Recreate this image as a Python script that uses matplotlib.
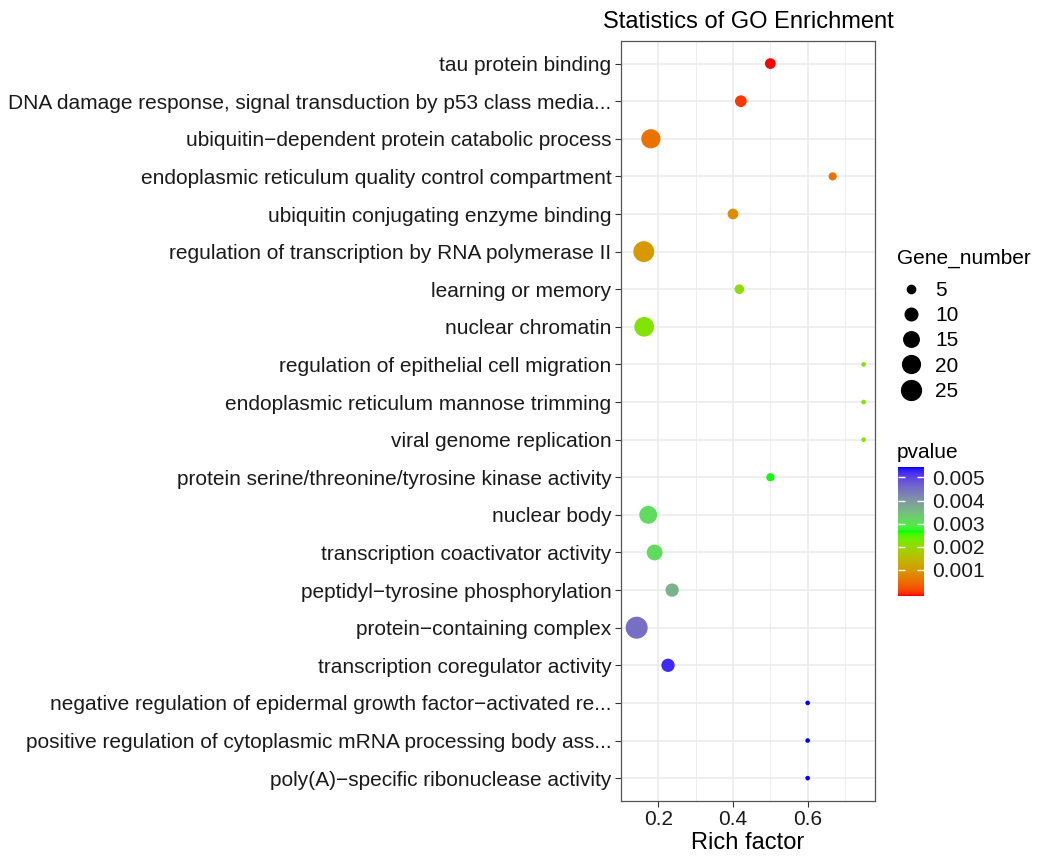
import numpy as np
import matplotlib
matplotlib.use("Agg")
import matplotlib.pyplot as plt
from matplotlib.colors import ListedColormap, Normalize
from matplotlib.lines import Line2D
import matplotlib.cm as cm

plt.rcParams['font.family'] = ['Liberation Sans', 'DejaVu Sans']

terms = [
    "tau protein binding",
    "DNA damage response, signal transduction by p53 class media...",
    "ubiquitin\u2212dependent protein catabolic process",
    "endoplasmic reticulum quality control compartment",
    "ubiquitin conjugating enzyme binding",
    "regulation of transcription by RNA polymerase II",
    "learning or memory",
    "nuclear chromatin",
    "regulation of epithelial cell migration",
    "endoplasmic reticulum mannose trimming",
    "viral genome replication",
    "protein serine/threonine/tyrosine kinase activity",
    "nuclear body",
    "transcription coactivator activity",
    "peptidyl\u2212tyrosine phosphorylation",
    "protein\u2212containing complex",
    "transcription coregulator activity",
    "negative regulation of epidermal growth factor\u2212activated re...",
    "positive regulation of cytoplasmic mRNA processing body ass...",
    "poly(A)\u2212specific ribonuclease activity",
]
rich_factor = [0.5, 0.421, 0.18, 0.667, 0.4, 0.161, 0.417, 0.162, 0.75, 0.75,
               0.75, 0.5, 0.173, 0.19, 0.237, 0.142, 0.226, 0.6, 0.6, 0.6]
gene_number = [6, 7, 20, 4, 6, 24, 5, 21, 3, 3, 3, 4, 17, 13, 9, 27, 9, 3, 3, 3]
pvalue = [0.00001, 0.00017, 0.00065, 0.00065, 0.00096, 0.00107, 0.0021, 0.0022,
          0.0022, 0.0022, 0.0022, 0.00266, 0.0031, 0.0031, 0.0036, 0.0044,
          0.0051, 0.0053, 0.0053, 0.0053]
size_breaks = [5, 10, 15, 20, 25]
p_ticks = [0.001, 0.002, 0.003, 0.004, 0.005]
x_ticks = [0.2, 0.4, 0.6]
x_minor = [0.1, 0.3, 0.5, 0.7]

# --- red -> green -> blue ramp interpolated in CIE Lab (like ggplot) ---
M = np.array([[0.4124564, 0.3575761, 0.1804375],
              [0.2126729, 0.7151522, 0.0721750],
              [0.0193339, 0.1191920, 0.9503041]])
WHITE = np.array([0.95047, 1.0, 1.08883])
D = 6 / 29


def to_lab(rgb):
    c = np.asarray(rgb, float)
    lin = np.where(c <= 0.04045, c / 12.92, ((c + 0.055) / 1.055) ** 2.4)
    xyz = M @ lin / WHITE
    f = np.where(xyz > D ** 3, np.cbrt(xyz), xyz / (3 * D ** 2) + 4 / 29)
    return np.array([116 * f[1] - 16, 500 * (f[0] - f[1]), 200 * (f[1] - f[2])])


def from_lab(lab):
    L, a, b = lab
    fy = (L + 16) / 116
    f = np.array([fy + a / 500, fy, fy - b / 200])
    xyz = np.where(f > D, f ** 3, 3 * D ** 2 * (f - 4 / 29)) * WHITE
    lin = np.clip(np.linalg.solve(M, xyz), 0, 1)
    c = np.where(lin <= 0.0031308, 12.92 * lin, 1.055 * lin ** (1 / 2.4) - 0.055)
    return np.clip(c, 0, 1)


stops = [to_lab(c) for c in [(1, 0, 0), (0, 1, 0), (0, 0, 1)]]
ramp = []
for t in np.linspace(0, 1, 256):
    k = min(int(t * 2), 1)
    u = t * 2 - k
    ramp.append(from_lab(stops[k] * (1 - u) + stops[k + 1] * u))
cmap = ListedColormap(ramp)

pmin, pmax = min(pvalue), max(pvalue)
norm = Normalize(pmin, pmax)

gmin, gmax = min(gene_number), max(gene_number)


def marker_pt(v):
    size = 1 + 5 * np.sqrt((np.asarray(v, float) - gmin) / (gmax - gmin))
    px = 1.22 * (2.845 * size + 0.945)
    return px * 72 / 100


W, H = 1038, 857
fig = plt.figure(figsize=(W / 100, H / 100), dpi=100)
ax = fig.add_axes([621 / W, 1 - 800.7 / H, 254 / W, 759.7 / H])

ax.scatter(rich_factor, terms, s=marker_pt(gene_number) ** 2, c=pvalue,
           cmap=cmap, norm=norm, linewidths=0, zorder=3)

lo, hi = min(rich_factor), max(rich_factor)
pad = (hi - lo) * 0.05
ax.set_xlim(lo - pad - 0.002, hi + pad)
ax.set_ylim(len(terms) - 0.4, -0.6)
ax.set_xticks(x_ticks)
ax.set_xticks(x_minor, minor=True)
ax.grid(True, which='major', color='#EBEBEB', linewidth=1.1, zorder=0)
ax.grid(True, which='minor', axis='x', color='#EBEBEB', linewidth=0.6, zorder=0)
ax.set_axisbelow(True)
for s in ax.spines.values():
    s.set_color('#555555')
    s.set_linewidth(0.9)
ax.tick_params(axis='both', which='major', length=4, width=0.8, color='#333333',
               labelsize=15, labelcolor='#1a1a1a', pad=3)
ax.tick_params(axis='x', which='minor', length=0)
ax.set_xlabel("Rich factor", fontsize=17, labelpad=2)
fig.text(748 / W, 1 - 28 / H, "Statistics of GO Enrichment", fontsize=17,
         ha='center', va='baseline')

# size legend
handles = [Line2D([], [], marker='o', ls='', color='black', markeredgewidth=0,
                  markersize=marker_pt(v)) for v in size_breaks]
fig.text(897 / W, 1 - 258 / H, "Gene_number", fontsize=15, va='center')
fig.legend(handles, [str(v) for v in size_breaks],
           loc='upper left', bbox_to_anchor=(897.5 / W, 1 - 281 / H),
           frameon=False, fontsize=15, handletextpad=0.5, labelspacing=0.3,
           borderpad=0, borderaxespad=0, handlelength=1.3)

# colour bar
half = (pmax - pmin) / 38
sm = cm.ScalarMappable(norm=Normalize(pmin - half, pmax + half), cmap=cmap)
cax = fig.add_axes([898 / W, 1 - 596 / H, 26 / W, 128.7 / H])
cbar = fig.colorbar(sm, cax=cax, ticks=p_ticks)
cbar.outline.set_visible(False)
cbar.set_ticklabels([f"{t:.3f}" for t in p_ticks])
cax.tick_params(direction='in', length=5, width=1, color='white', left=True,
                right=True, labelsize=15, labelcolor='#1a1a1a', pad=6)
fig.text(897 / W, 1 - 452 / H, "pvalue", fontsize=15, va='center')

fig.savefig("out.png", dpi=100)
